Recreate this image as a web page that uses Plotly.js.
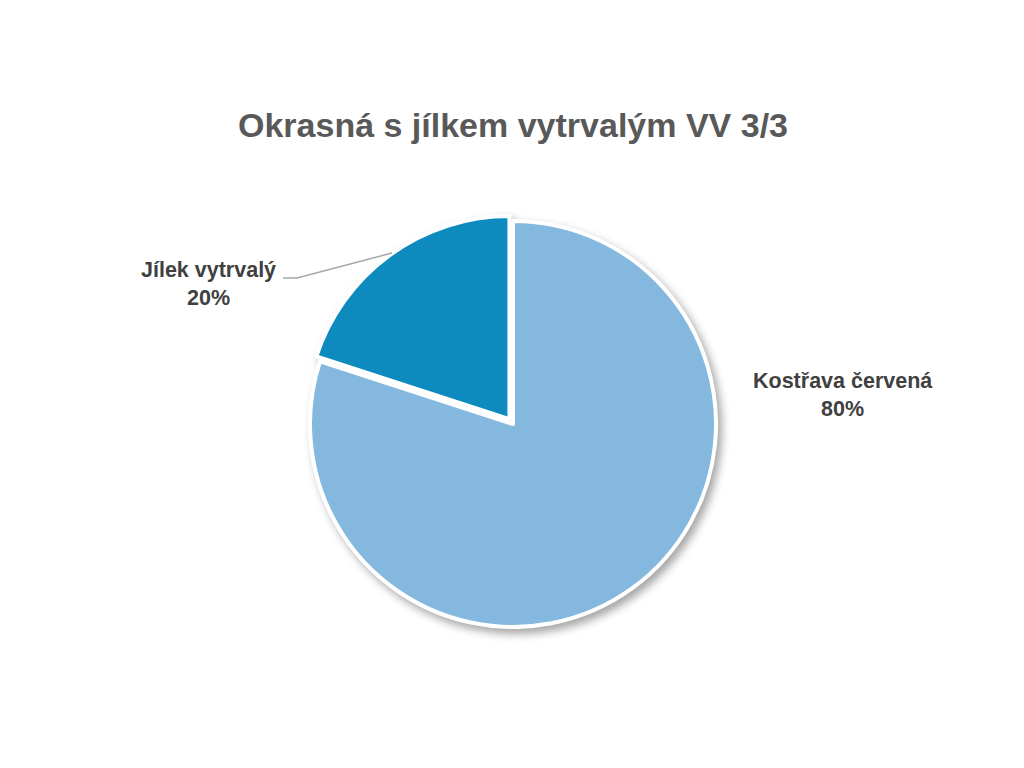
<!DOCTYPE html>
<html><head><meta charset="utf-8">
<script src="https://cdn.plot.ly/plotly-3.0.1.min.js"></script>
<style>
html,body{margin:0;padding:0;background:#fff;}
#chart{width:1024px;height:768px;}
#chart .pielayer g.trace{filter:drop-shadow(4px 5px 4px rgba(0,0,0,0.35));}
</style>
</head><body>
<div id="chart"></div>
<script>
const chartTitle = "Okrasná s jílkem vytrvalým VV 3/3";
const categories = ["Kostřava červená", "Jílek vytrvalý"];
const shares = [80, 20];
const colors = ["#85B8DF", "#0E8BBE"];

const W = 1024, H = 768;
const cx = 513, cy = 424, r = 203, pullDark = 0.03;
const half = r * (1 + pullDark);

const trace = {
  type: "pie",
  labels: categories,
  values: shares,
  sort: false,
  direction: "clockwise",
  rotation: 0,
  pull: [0, pullDark],
  textinfo: "none",
  hoverinfo: "label+percent",
  marker: {colors: colors, line: {color: "#ffffff", width: 4}},
  domain: {x: [(cx - half) / W, (cx + half) / W], y: [(H - cy - half) / H, (H - cy + half) / H]},
  showlegend: false
};

const total = shares.reduce((a, b) => a + b, 0);
const pct = shares.map(v => Math.round(v / total * 100) + "%");
const labelPos = [[843, 395], [208, 284]];
const labelFont = {family: "Liberation Sans Narrow, Arial Narrow, Liberation Sans, sans-serif", size: 21.5, color: "#404040"};

const annotations = categories.map((c, i) => ({
  x: labelPos[i][0] / W, y: 1 - labelPos[i][1] / H, xref: "paper", yref: "paper",
  text: "<b>" + c + "</b><br><b>" + pct[i] + "</b>",
  showarrow: false, font: labelFont, align: "center", xanchor: "center", yanchor: "middle"
}));

const layout = {
  width: W, height: H,
  margin: {l: 0, r: 0, t: 0, b: 0},
  paper_bgcolor: "#ffffff",
  title: {
    text: "<b>" + chartTitle + "</b>",
    font: {family: "Liberation Sans Narrow, Arial Narrow, Liberation Sans, sans-serif", size: 34, color: "#595959"},
    x: 513 / W, xanchor: "center", y: 1 - 125 / H, yanchor: "middle", xref: "paper", yref: "paper"
  },
  annotations: annotations,
  shapes: [{
    type: "path", xref: "paper", yref: "paper",
    path: "M " + (283 / W) + " " + (1 - 278 / H) + " L " + (297 / W) + " " + (1 - 278 / H) + " L " + (392 / W) + " " + (1 - 253 / H),
    line: {color: "#A6A6A6", width: 1.5}
  }]
};

Plotly.newPlot("chart", [trace], layout, {displayModeBar: false, staticPlot: true});
</script>
</body></html>
